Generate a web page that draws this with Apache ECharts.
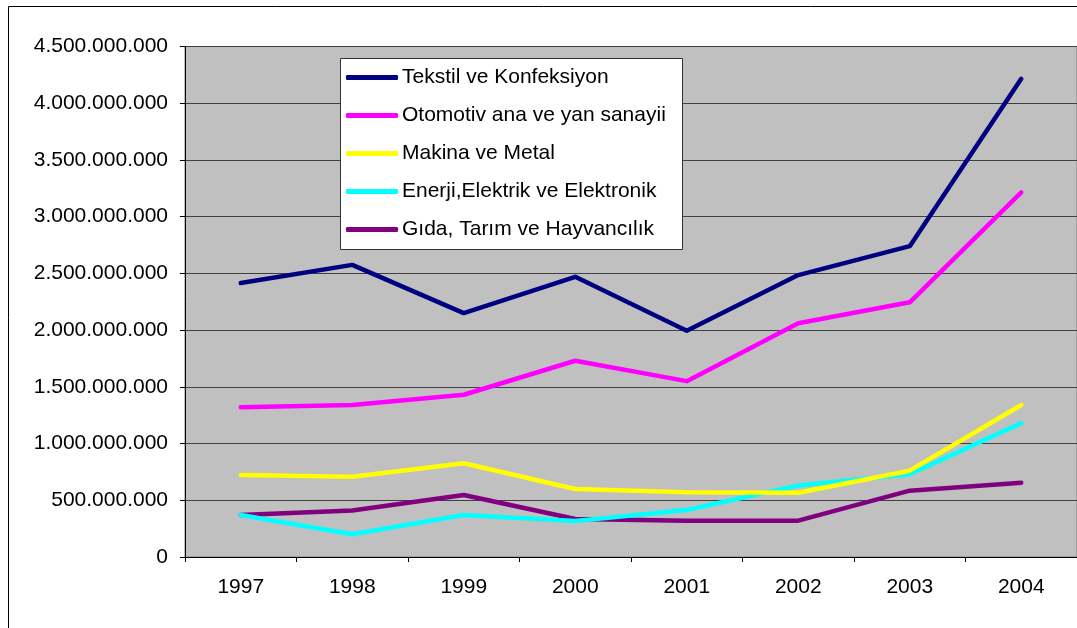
<!DOCTYPE html>
<html>
<head>
<meta charset="utf-8">
<script src="https://cdn.jsdelivr.net/npm/echarts@6/dist/echarts.min.js"></script>
<style>
  html, body { margin: 0; padding: 0; background: #fff; }
  #chart { width: 1077px; height: 628px; }
</style>
</head>
<body>
<div id="chart"></div>
<script>
// yıllar
var years = ['1997', '1998', '1999', '2000', '2001', '2002', '2003', '2004'];
var names = [
  'Tekstil ve Konfeksiyon',
  'Otomotiv ana ve yan sanayii',
  'Makina ve Metal',
  'Enerji,Elektrik ve Elektronik',
  'Gıda, Tarım ve Hayvancılık'
];
var tekstil  = [2415000000, 2575000000, 2150000000, 2470000000, 1995000000, 2485000000, 2740000000, 4215000000];
var otomotiv = [1320000000, 1340000000, 1430000000, 1730000000, 1550000000, 2060000000, 2245000000, 3215000000];
var makina   = [723000000, 708000000, 826000000, 600000000, 570000000, 567000000, 761000000, 1340000000];
var enerji   = [370000000, 200000000, 370000000, 317000000, 414000000, 630000000, 730000000, 1180000000];
var gida     = [370000000, 410000000, 547000000, 335000000, 320000000, 320000000, 585000000, 655000000];
var colors = ['#000080', '#FF00FF', '#FFFF00', '#00FFFF', '#800080'];

function dots(v) {
  return String(v).replace(/\B(?=(\d{3})+(?!\d))/g, '.');
}

var font = 'Liberation Sans, Arial, sans-serif';
var chart = echarts.init(document.getElementById('chart'));

var series = [tekstil, otomotiv, makina, enerji, gida].map(function (d, i) {
  return {
    name: names[i],
    type: 'line',
    data: d,
    symbol: 'none',
    lineStyle: { width: 4.5, color: colors[i], cap: 'round', join: 'round' },
    itemStyle: { color: colors[i] },
    z: 2 + (4 - i) * 0.1
  };
});

chart.setOption({
  animation: false,
  textStyle: { fontFamily: font },
  grid: {
    left: 185, top: 46.5, right: -10, bottom: 71,
    show: true, backgroundColor: '#C0C0C0', borderColor: '#808080', borderWidth: 1
  },
  graphic: [
    { type: 'rect', shape: { x: 8.5, y: 6.5, width: 1200, height: 700 }, style: { fill: 'none', stroke: '#000', lineWidth: 1 }, z: 0, silent: true },
    { type: 'rect', shape: { x: 340.5, y: 58.5, width: 342, height: 191 }, style: { fill: '#fff', stroke: '#333', lineWidth: 1 }, z: 3, silent: true }
  ],
  legend: {
    data: names,
    orient: 'vertical',
    left: 346, top: 67,
    padding: 0,
    itemWidth: 52, itemHeight: 5,
    itemGap: 17,
    icon: 'roundRect',
    textStyle: { fontSize: 21, color: '#000', fontFamily: font, lineHeight: 21, padding: [0, 0, 0, -1] },
    z: 5
  },
  xAxis: {
    type: 'category',
    data: years,
    boundaryGap: true,
    axisLine: { lineStyle: { color: '#000', width: 1 } },
    axisTick: { show: true, length: 5, lineStyle: { color: '#000' } },
    axisLabel: { fontSize: 21, color: '#000', margin: 20, fontFamily: font },
    splitLine: { show: false }
  },
  yAxis: {
    type: 'value',
    min: 0, max: 4500000000, interval: 500000000,
    axisLine: { show: true, lineStyle: { color: '#000', width: 1 } },
    axisTick: { show: true, length: 5, lineStyle: { color: '#000' } },
    axisLabel: { fontSize: 21, color: '#000', margin: 17, fontFamily: font, formatter: dots },
    splitLine: { show: true, lineStyle: { color: '#404040', width: 1 } }
  },
  series: series
});
</script>
</body>
</html>
